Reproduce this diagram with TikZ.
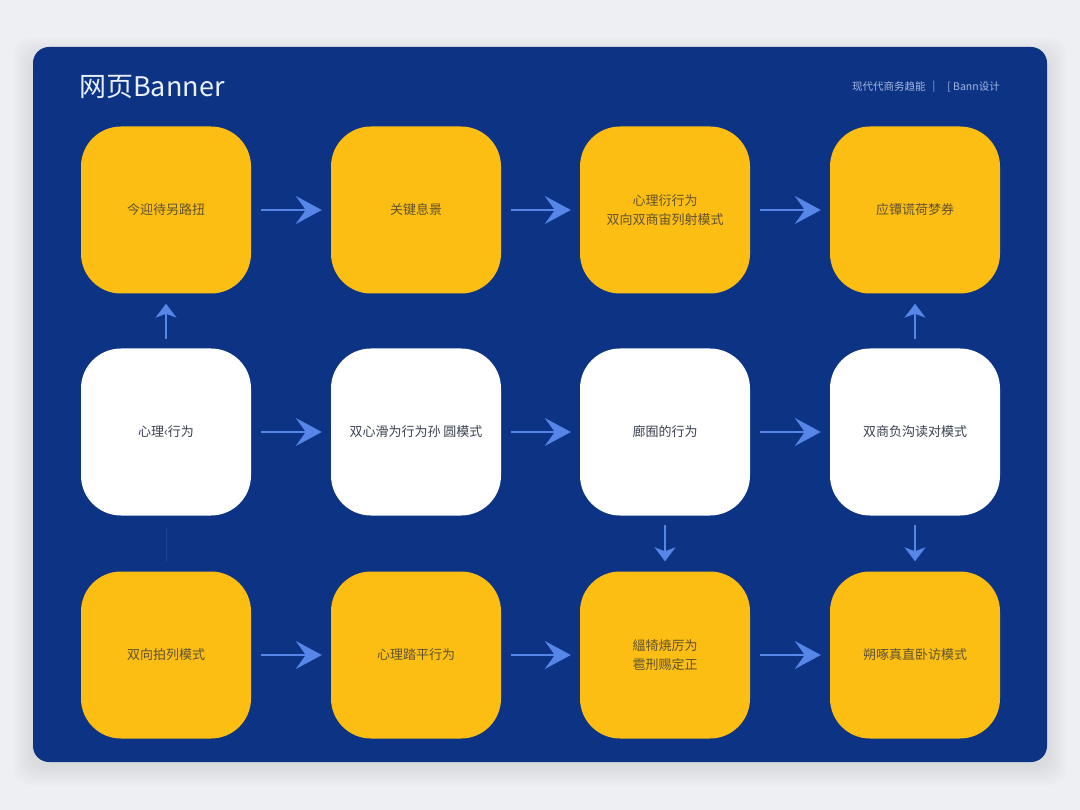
\documentclass[tikz,border=0pt]{standalone}
\usepackage{fontspec}
\setmainfont{Noto Sans CJK SC}
\usetikzlibrary{arrows.meta}
\definecolor{bgc}{HTML}{EDEFF3}
\definecolor{panelc}{HTML}{0C3384}
\definecolor{yel}{HTML}{FDBE14}
\definecolor{arrc}{HTML}{5686E8}
\definecolor{ytext}{HTML}{5E5230}
\definecolor{wtext}{HTML}{3A4152}
\definecolor{titlec}{HTML}{E9EFFB}
\definecolor{subc}{HTML}{A6B8E0}
\tikzset{
  cardbase/.style={minimum width=170pt, minimum height=167pt, rounded corners=40pt, align=center, inner sep=0pt, font=\fontsize{13}{19}\selectfont},
  ycard/.style={cardbase, fill=yel, text=ytext},
  wcard/.style={cardbase, fill=white, text=wtext},
  harrow/.style={draw=arrc, line width=1.8pt, -{Stealth[length=26pt,width=28pt,inset=10pt]}, shorten <=10pt, shorten >=9pt},
  varrow/.style={draw=arrc, line width=1.5pt, -{Stealth[length=14pt,width=21pt,inset=4pt]}, shorten <=9pt, shorten >=10pt},
  faintline/.style={draw=arrc, opacity=0.18, line width=1pt, shorten <=12pt, shorten >=9pt}
}
\begin{document}
\begin{tikzpicture}[x=1pt,y=-1pt]
\useasboundingbox (0,0) rectangle (1080,810);
\fill[bgc] (0,0) rectangle (1080,810);
% soft shadow
\foreach \s in {2,4,...,20}{
  \fill[black, opacity=0.007, rounded corners=18pt] (33-\s,47-\s+10) rectangle (1047+\s,762+\s+4);
}
\fill[panelc, rounded corners=16pt] (33,47) rectangle (1047,762);

\node[anchor=west, text=titlec, font=\fontsize{27}{30}\selectfont, inner sep=0pt] (title) at (79,87) {网页Banner};
\node[anchor=west, text=subc, font=\fontsize{10.5}{12}\selectfont, inner sep=0pt] (sub1) at (852,87) {现代代商务趋能};
\node[text=subc, font=\fontsize{10}{12}\selectfont, inner sep=0pt] (sub2) at (934,87) {|};
\node[anchor=east, text=subc, font=\fontsize{10.5}{12}\selectfont, inner sep=0pt] (sub3) at (1000,87) {[ Bann设计};

% row 1
\node[ycard] (a1) at (166,210) {今迎待另路扭};
\node[ycard] (a2) at (416,210) {关键息景};
\node[ycard] (a3) at (665,210) {心理衍行为\\双向双商宙列射模式};
\node[ycard] (a4) at (915,210) {应镡谎荷梦券};
% row 2
\node[wcard] (b1) at (166,432) {心理‹行为};
\node[wcard] (b2) at (416,432) {双心滑为行为孙 圆模式};
\node[wcard] (b3) at (665,432) {廊囿的行为};
\node[wcard] (b4) at (915,432) {双商负沟读对模式};
% row 3
\node[ycard] (c1) at (166,655) {双向拍列模式};
\node[ycard] (c2) at (416,655) {心理踏平行为};
\node[ycard] (c3) at (665,655) {縕犄焼厉为\\雹刑赐定正};
\node[ycard] (c4) at (915,655) {朔啄真直卧访模式};

% horizontal arrows
\foreach \r in {a,b,c}{
  \draw[harrow] (\r1.east) -- (\r2.west);
  \draw[harrow] (\r2.east) -- (\r3.west);
  \draw[harrow] (\r3.east) -- (\r4.west);
}
% vertical arrows
\draw[varrow] (b1.north) -- (a1.south);
\draw[varrow] (b4.north) -- (a4.south);
\draw[varrow] (b3.south) -- (c3.north);
\draw[varrow] (b4.south) -- (c4.north);
\draw[faintline] (b1.south) -- (c1.north);
\end{tikzpicture}
\end{document}
